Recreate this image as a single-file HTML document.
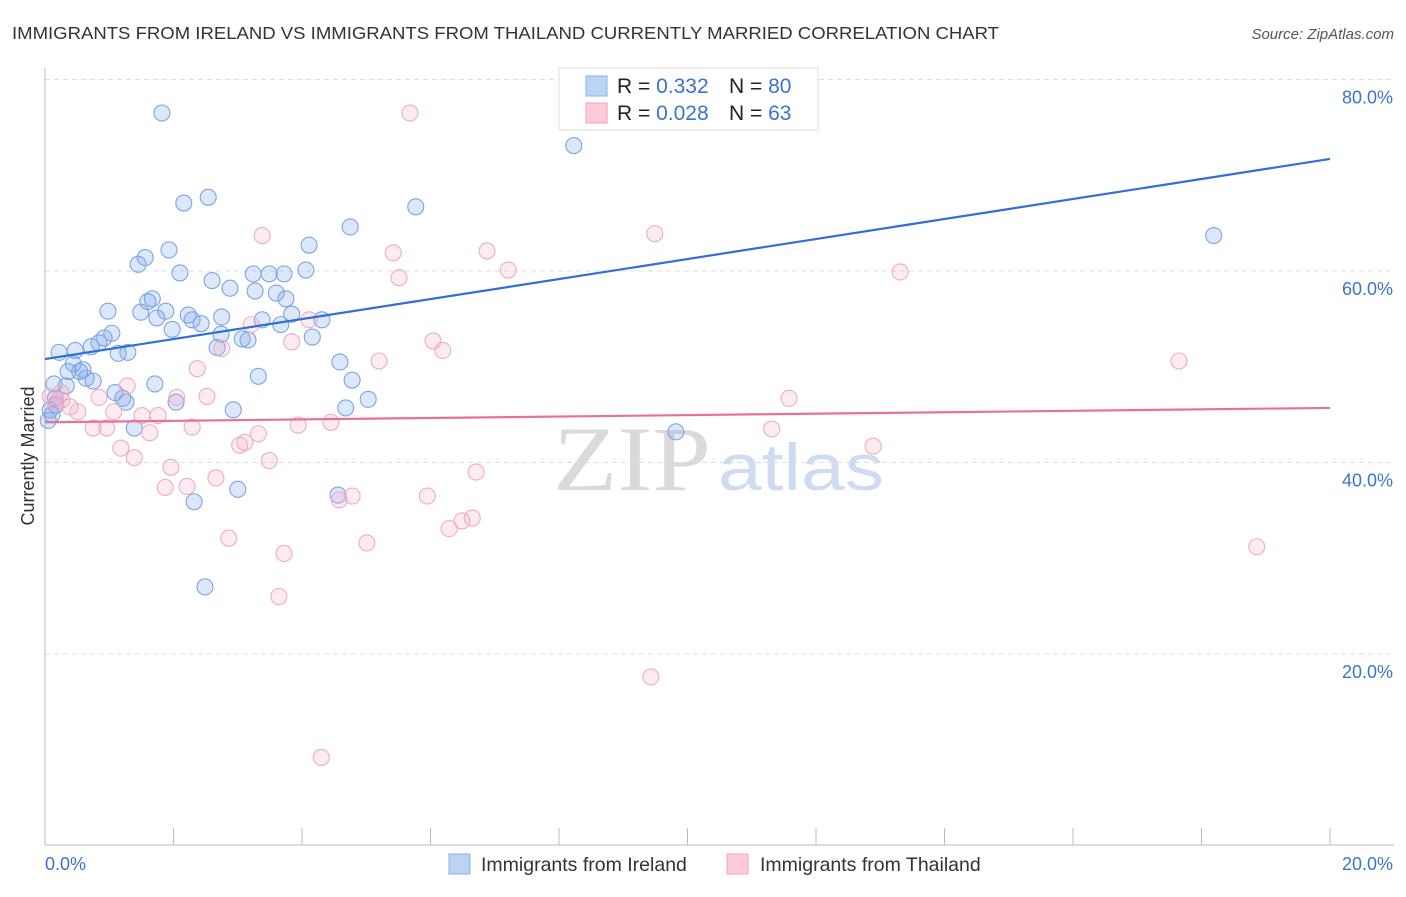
<!DOCTYPE html>
<html><head><meta charset="utf-8"><style>
body{margin:0;background:#fff;font-family:"Liberation Sans",sans-serif;}
</style></head><body>
<svg id="chart" width="1406" height="892" xmlns="http://www.w3.org/2000/svg">
<text x="12" y="39" font-size="17.5" fill="#333" textLength="987" lengthAdjust="spacingAndGlyphs">IMMIGRANTS FROM IRELAND VS IMMIGRANTS FROM THAILAND CURRENTLY MARRIED CORRELATION CHART</text>
<text x="1394" y="39" font-size="15" fill="#555" font-style="italic" text-anchor="end">Source: ZipAtlas.com</text>
<g><text x="553" y="490" font-size="92" font-family="Liberation Serif,serif" fill="#dadada" textLength="158" lengthAdjust="spacingAndGlyphs">ZIP</text><text x="718" y="490" font-size="66" fill="#cddcf0" textLength="166" lengthAdjust="spacingAndGlyphs">atlas</text></g>
<g id="grid"></g><g id="axes"></g><g id="pts"></g><g id="lines"></g>
<text transform="translate(34,456) rotate(-90)" font-size="18" fill="#333" text-anchor="middle">Currently Married</text>
<g>
<rect x="559" y="68" width="259" height="62" fill="#fff" stroke="#ddd"/>
<rect x="586" y="76" width="21" height="20" fill="#bcd3f5" stroke="#8ab0e6"/>
<rect x="586" y="103" width="21" height="20" fill="#fccad9" stroke="#f0a0bb"/>
<text x="617" y="93" font-size="21" fill="#222">R = <tspan fill="#3a74d0">0.332</tspan></text>
<text x="729" y="93" font-size="21" fill="#222">N = <tspan fill="#3a74d0">80</tspan></text>
<text x="617" y="120" font-size="21" fill="#222">R = <tspan fill="#3a74d0">0.028</tspan></text>
<text x="729" y="120" font-size="21" fill="#222">N = <tspan fill="#3a74d0">63</tspan></text>
</g>
<g>
<rect x="449" y="854" width="21" height="20" fill="#bcd3f5" stroke="#8ab0e6"/>
<text x="481" y="871" font-size="19.5" fill="#333">Immigrants from Ireland</text>
<rect x="727" y="854" width="21" height="20" fill="#fccad9" stroke="#f0a0bb"/>
<text x="760" y="871" font-size="19.5" fill="#333">Immigrants from Thailand</text>
</g>
</svg>
<script>
const blueX=[1.82,2.16,2.54,8.23,5.77,4.75,4.11,1.93,1.56,1.45,2.10,2.60,2.88,3.24,3.49,3.72,4.06,3.27,3.60,3.75,1.67,1.60,0.98,1.49,1.88,1.74,2.23,2.29,2.75,2.43,1.98,3.38,3.84,3.67,4.31,1.04,0.92,0.84,0.72,2.74,3.07,3.16,2.68,4.16,1.29,1.14,0.47,0.22,0.44,0.36,0.59,0.54,0.64,0.75,0.33,0.14,4.59,4.78,3.32,1.71,1.09,1.21,1.26,2.04,5.03,4.68,2.93,0.17,0.08,0.11,0.05,1.39,9.82,3.00,2.32,4.56,2.49,18.19,11.16,0.16];
const blueY=[76.5,67.1,67.7,73.1,66.7,64.6,62.7,62.2,61.4,60.7,59.8,59.0,58.2,59.7,59.7,59.7,60.1,57.9,57.7,57.1,57.1,56.8,55.8,55.7,55.8,55.1,55.4,54.9,55.2,54.5,53.9,54.9,55.5,54.4,54.9,53.5,53.0,52.5,52.1,53.4,52.9,52.8,52.0,53.1,51.5,51.4,51.7,51.5,50.3,49.5,49.7,49.5,48.8,48.5,48.0,48.2,50.5,48.6,49.0,48.2,47.3,46.7,46.3,46.3,46.6,45.7,45.5,46.0,45.5,45.0,44.4,43.6,43.2,37.2,35.9,36.6,27.0,63.7,79.5,46.7];
const pinkX=[5.68,3.38,6.88,9.49,5.42,7.21,5.51,13.31,4.11,3.21,6.04,6.19,2.75,3.84,5.20,17.65,2.37,1.28,0.84,2.05,2.52,0.25,0.17,0.39,0.51,1.07,1.51,1.76,0.75,0.96,1.63,2.29,4.45,3.94,11.58,11.31,12.89,3.32,3.11,3.03,1.18,1.39,1.96,3.49,6.71,2.66,1.87,2.21,4.78,4.58,5.95,6.65,6.49,6.29,5.01,2.86,3.72,3.64,18.86,9.43,4.30,0.08,0.26];
const pinkY=[76.5,63.7,62.1,63.9,61.9,60.1,59.3,59.9,54.9,54.4,52.7,51.7,51.9,52.6,50.6,50.6,49.8,48.0,46.8,46.8,46.9,47.3,46.2,45.8,45.3,45.3,44.9,44.9,43.6,43.6,43.1,43.7,44.2,43.9,46.7,43.5,41.7,43.0,42.1,41.8,41.5,40.5,39.5,40.2,39.0,38.4,37.4,37.5,36.5,36.1,36.5,34.2,33.9,33.1,31.6,32.1,30.5,26.0,31.2,17.6,9.2,46.9,46.5];
const trendBlue=[50.8,71.7];
const trendPink=[44.2,45.7];
const yTicks=[20,40,60,80];
const xTickLabels=["0.0%","20.0%"];
const NS="http://www.w3.org/2000/svg";
const X=v=>45+v/20*1285;
const Y=v=>845.5-v/20*191.5;
function mk(tag,attrs,parent){const e=document.createElementNS(NS,tag);for(const k in attrs)e.setAttribute(k,attrs[k]);document.getElementById(parent).appendChild(e);return e;}
yTicks.forEach(t=>{
 const l=mk('line',{x1:45,x2:1394,y1:Y(t),y2:Y(t),stroke:'#ddd','stroke-dasharray':'5,4'},'grid');
 
 
 const tx=mk('text',{x:1393,y:Y(t)+24,'font-size':18,fill:'#3a74d0','text-anchor':'end'},'grid');
 tx.textContent=t.toFixed(1)+'%';
 
 
});
const ax=mk('line',{x1:45,x2:45,y1:68,y2:845,stroke:'#bbb'},'axes');


const bx=mk('line',{x1:45,x2:1394,y1:845,y2:845,stroke:'#bbb'},'axes');


for(let i=0;i<=10;i++){
 const tk=mk('line',{x1:X(i*2),x2:X(i*2),y1:828,y2:845,stroke:'#bbb'},'axes');
 
 
}
const xl0=mk('text',{x:45,y:870,'font-size':18,fill:'#3a74d0'},'axes');
xl0.textContent=xTickLabels[0];


const xl1=mk('text',{x:1393,y:870,'font-size':18,fill:'#3a74d0','text-anchor':'end'},'axes');
xl1.textContent=xTickLabels[1];


blueX.forEach((v,i)=>{
 const c=mk('circle',{cx:X(v),cy:Y(blueY[i]),r:8,fill:'rgba(130,170,235,0.28)',stroke:'#7aa6e2','stroke-width':1.1},'pts');
 
 
});
pinkX.forEach((v,i)=>{
 const c=mk('circle',{cx:X(v),cy:Y(pinkY[i]),r:8,fill:'rgba(245,165,195,0.22)',stroke:'#f2aac2','stroke-width':1.1},'pts');
 
 
});
const lb=mk('line',{x1:X(0),y1:Y(trendBlue[0]),x2:X(20),y2:Y(trendBlue[1]),stroke:'#2f6fd6','stroke-width':2.2},'lines');


const lp=mk('line',{x1:X(0),y1:Y(trendPink[0]),x2:X(20),y2:Y(trendPink[1]),stroke:'#e8709a','stroke-width':2.2},'lines');


</script>
</body></html>
